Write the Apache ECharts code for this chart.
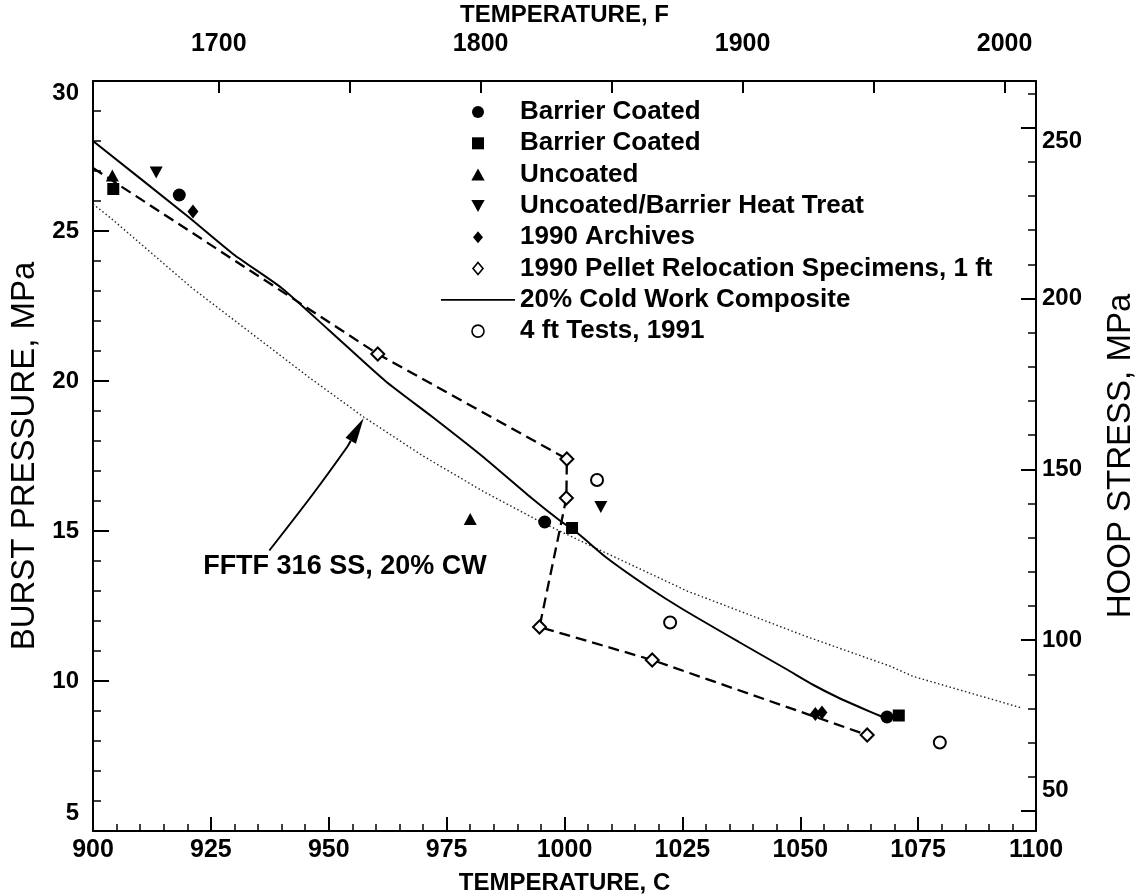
<!DOCTYPE html>
<html>
<head>
<meta charset="utf-8">
<title>Burst pressure vs temperature</title>
<script src="https://cdn.jsdelivr.net/npm/echarts@6/dist/echarts.min.js"></script>
<style>
  html, body { margin: 0; padding: 0; background: #fff; }
  #chart { width: 1137px; height: 896px; }
</style>
</head>
<body>
<div id="chart"></div>
<script>
// ---- data (temperature C, burst pressure MPa) ----
var barrierCircle = [[918.3, 26.2], [995.8, 15.3], [1068.4, 8.8]];
var barrierSquare = [[904.3, 26.4], [1001.6, 15.1], [1070.9, 8.85]];
var uncoated = [[904.1, 26.85], [980.0, 15.4]];
var uncoatedHeat = [[913.4, 26.95], [1007.7, 15.8]];
var archives = [[921.2, 25.65], [1053.2, 8.9], [1054.6, 8.95]];
var pelletPath = [[900, 27.1], [960.4, 20.9], [1000.5, 17.4], [1000.4, 16.1], [994.7, 11.8], [1018.6, 10.7], [1064.2, 8.2]];
var coldWork = [[900, 28.0], [920, 25.5], [930, 24.2], [940, 23.1], [950, 21.7], [962, 20.0], [972, 18.8],
  [982.5, 17.5], [993, 16.1], [999, 15.35], [1003, 14.9], [1009, 14.1], [1018, 13.1], [1025, 12.4],
  [1037, 11.3], [1047, 10.4], [1053, 9.85], [1058, 9.45], [1063, 9.1], [1067.5, 8.8]];
var fftf = [[900, 25.9], [904, 25.4], [921, 23.1], [946, 20.1], [957.4, 18.8], [970, 17.5], [983, 16.3],
  [995, 15.3], [1007, 14.4], [1026, 13.0], [1051, 11.5], [1069, 10.5], [1074, 10.15], [1097, 9.1]];
var fourFt = [[1006.9, 16.7], [1022.4, 11.95], [1079.6, 7.95]];

// ---- tick values ----
var fTicks = [1700, 1750, 1800, 1850, 1900, 1950, 2000];
var fLabels = [1700, 1800, 1900, 2000];
var hoopMajor = [50, 100, 150, 200, 250];
var hoopMinor = [60, 70, 80, 90, 110, 120, 130, 140, 160, 170, 180, 190, 210, 220, 230, 240, 260];

// annotation (data coords): arrow from label to the FFTF curve
var arrowPath = [[937.4, 14.35], [946.5, 16.2], [953.9, 17.8], [957.4, 18.76]];
var arrowLabelAt = [983.5, 13.8];
var arrowLabel = 'FFTF 316 SS, 20% CW';

var FONT = 'Liberation Sans';
var tickFont = { fontFamily: FONT, fontSize: 24, fontWeight: 'bold', color: '#000' };
var plain = function (v) { return String(v); };

// legend glyphs as paths so they keep their aspect inside the wide legend slot
var ICON_SQUARE = 'path://M0,0L10,0L10,10L0,10Z';
var ICON_TRI_UP = 'path://M5,0L10,9L0,9Z';
var ICON_TRI_DOWN = 'path://M0,0L10,0L5,9Z';
var ICON_DIAMOND = 'path://M5,0L10,6L5,12L0,6Z';
var ICON_LINE = 'path://M0,0L100,0L100,2.4L0,2.4Z';

function rich(extra) {
  return Object.assign({}, tickFont, extra || {});
}

var chart = echarts.init(document.getElementById('chart'));

var option = {
  animation: false,
  backgroundColor: '#fff',
  grid: { left: 93, right: 101, top: 81, bottom: 65, containLabel: false, outerBoundsMode: 'none' },
  legend: {
    orient: 'vertical',
    left: 441,
    top: 99,
    padding: 0,
    itemWidth: 74,
    itemHeight: 12,
    itemGap: 5.3,
    symbolKeepAspect: true,
    selectedMode: false,
    formatter: function (n) { return n.trim(); },
    textStyle: { fontFamily: FONT, fontSize: 26, fontWeight: 'bold', color: '#000', lineHeight: 25 },
    data: [
      { name: 'Barrier Coated', icon: 'circle', itemStyle: { color: '#000' } },
      { name: 'Barrier Coated ', icon: ICON_SQUARE, itemStyle: { color: '#000' } },
      { name: 'Uncoated', icon: ICON_TRI_UP, itemStyle: { color: '#000' } },
      { name: 'Uncoated/Barrier Heat Treat', icon: ICON_TRI_DOWN, itemStyle: { color: '#000' } },
      { name: '1990 Archives', icon: ICON_DIAMOND, itemStyle: { color: '#000' } },
      { name: '1990 Pellet Relocation Specimens, 1 ft', icon: ICON_DIAMOND,
        itemStyle: { color: '#fff', borderColor: '#000', borderWidth: 1.6 } },
      { name: '20% Cold Work Composite', icon: ICON_LINE, itemStyle: { color: '#000', borderWidth: 0 } },
      { name: '4 ft Tests, 1991', icon: 'circle',
        itemStyle: { color: '#fff', borderColor: '#000', borderWidth: 1.6 } }
    ]
  },
  xAxis: [
    {
      type: 'value', position: 'bottom', min: 900, max: 1100, interval: 25,
      name: 'TEMPERATURE, C', nameLocation: 'middle', nameGap: 40,
      nameTextStyle: { fontFamily: FONT, fontSize: 24, fontWeight: 'bold', color: '#000' },
      axisLine: { lineStyle: { color: '#000', width: 2 } },
      axisTick: { inside: true, length: 14, lineStyle: { color: '#000', width: 2 } },
      minorTick: { show: true, splitNumber: 5, length: 7, lineStyle: { color: '#000', width: 1.5 } },
      axisLabel: Object.assign({ margin: 7, formatter: plain }, tickFont, { fontSize: 25 }),
      splitLine: { show: false }
    },
    {
      type: 'value', position: 'top', min: 1652, max: 2012,
      name: 'TEMPERATURE, F', nameLocation: 'middle', nameGap: 54,
      nameTextStyle: { fontFamily: FONT, fontSize: 24, fontWeight: 'bold', color: '#000' },
      axisLine: { lineStyle: { color: '#000', width: 2 } },
      axisTick: { inside: true, length: 12, customValues: fTicks, lineStyle: { color: '#000', width: 2 } },
      axisLabel: Object.assign({ margin: 24, customValues: fLabels, formatter: plain }, tickFont, { fontSize: 25 }),
      splitLine: { show: false }
    }
  ],
  yAxis: [
    {
      type: 'value', position: 'left', min: 5, max: 30, interval: 5,
      name: 'BURST PRESSURE, MPa', nameLocation: 'middle', nameGap: 52,
      nameTextStyle: { fontFamily: FONT, fontSize: 33, color: '#000' },
      axisLine: { lineStyle: { color: '#000', width: 2 } },
      axisTick: { inside: true, length: 16, lineStyle: { color: '#000', width: 2 } },
      minorTick: { show: true, splitNumber: 5, length: 8, lineStyle: { color: '#000', width: 1.5 } },
      axisLabel: {
        margin: 14,
        formatter: function (v) {
          if (v === 5) return '{lo|5}';
          if (v === 30) return '{hi|30}';
          return '{n|' + v + '}';
        },
        rich: { n: rich(), lo: rich({ padding: [0, 0, 36, 0] }), hi: rich({ padding: [24, 0, 0, 0] }) }
      },
      splitLine: { show: false }
    },
    {
      type: 'value', position: 'right', min: 44.15, max: 263.67,
      name: 'HOOP STRESS, MPa', nameLocation: 'middle', nameGap: 68,
      nameTextStyle: { fontFamily: FONT, fontSize: 33, color: '#000' },
      axisLine: { lineStyle: { color: '#000', width: 2 } },
      axisTick: { inside: true, length: 15, customValues: hoopMajor, lineStyle: { color: '#000', width: 2 } },
      axisLabel: {
        margin: 6,
        customValues: hoopMajor,
        formatter: function (v) {
          if (v === 50) return '{lo|50}';
          if (v === 250) return '{hi|250}';
          return '{n|' + v + '}';
        },
        rich: { n: rich(), lo: rich({ padding: [0, 0, 42, 0] }), hi: rich({ padding: [28, 0, 0, 0] }) }
      },
      splitLine: { show: false }
    },
    {
      type: 'value', position: 'right', min: 44.15, max: 263.67,
      axisLine: { show: false },
      axisTick: { inside: true, length: 8, customValues: hoopMinor, lineStyle: { color: '#000', width: 1.5 } },
      axisLabel: { show: false },
      splitLine: { show: false }
    }
  ],
  series: [
    {
      name: 'FFTF', type: 'line', data: fftf, showSymbol: false, symbol: 'none', silent: true,
      lineStyle: { color: '#222', width: 1.4, type: [1.5, 2.5] }, z: 1
    },
    {
      name: '20% Cold Work Composite', type: 'line', data: coldWork, symbol: 'none', smooth: 0.2, silent: true,
      itemStyle: { color: '#000' }, lineStyle: { color: '#000', width: 2 }, z: 2
    },
    {
      name: '1990 Pellet Relocation Specimens, 1 ft', type: 'line', silent: true,
      data: pelletPath.map(function (p, i) { return i === 0 ? { value: p, symbol: 'none' } : p; }),
      symbol: 'emptyDiamond', symbolSize: 13, showSymbol: true,
      itemStyle: { color: '#000', borderWidth: 1.6 },
      lineStyle: { color: '#000', width: 2.3, type: [11, 6] }, z: 3
    },
    {
      name: 'Barrier Coated', type: 'scatter', data: barrierCircle, symbol: 'circle', symbolSize: 13,
      itemStyle: { color: '#000', opacity: 1 }, z: 5
    },
    {
      name: 'Barrier Coated ', type: 'scatter', data: barrierSquare, symbol: 'rect', symbolSize: 12,
      itemStyle: { color: '#000', opacity: 1 }, z: 5
    },
    {
      name: 'Uncoated', type: 'scatter', data: uncoated, symbol: 'triangle', symbolSize: [13, 12],
      itemStyle: { color: '#000', opacity: 1 }, z: 5
    },
    {
      name: 'Uncoated/Barrier Heat Treat', type: 'scatter', data: uncoatedHeat,
      symbol: 'path://M0,0L20,0L10,18Z', symbolSize: [13, 12],
      itemStyle: { color: '#000', opacity: 1 }, z: 5
    },
    {
      name: '1990 Archives', type: 'scatter', data: archives, symbol: 'diamond', symbolSize: [11, 14],
      itemStyle: { color: '#000', opacity: 1 }, z: 5
    },
    {
      name: '4 ft Tests, 1991', type: 'scatter', data: fourFt, symbol: 'emptyCircle', symbolSize: 12,
      itemStyle: { color: '#000', borderWidth: 1.6, opacity: 1 }, z: 5
    }
  ]
};

chart.setOption(option);

// arrow + label for the FFTF curve, placed through the chart's own scales
var toPx = function (p) { return chart.convertToPixel({ xAxisIndex: 0, yAxisIndex: 0 }, p); };
var pts = arrowPath.map(toPx);
var tip = pts[pts.length - 1];
var prev = pts[pts.length - 2];
var dx = tip[0] - prev[0], dy = tip[1] - prev[1];
var len = Math.sqrt(dx * dx + dy * dy);
var ux = dx / len, uy = dy / len;
var headLen = 26, headHalf = 6;
var bx = tip[0] - ux * headLen, by = tip[1] - uy * headLen;
var labelPx = toPx(arrowLabelAt);

chart.setOption({
  graphic: [
    {
      type: 'polyline', silent: true,
      shape: { points: pts.slice(0, pts.length - 1).concat([[bx, by]]), smooth: 0.3 },
      style: { stroke: '#000', lineWidth: 2, fill: null }
    },
    {
      type: 'polygon', silent: true,
      shape: { points: [tip, [bx - uy * headHalf, by + ux * headHalf], [bx + uy * headHalf, by - ux * headHalf]] },
      style: { fill: '#000' }
    },
    {
      type: 'text', silent: true, x: labelPx[0], y: labelPx[1],
      style: {
        text: arrowLabel, fontFamily: FONT, fontSize: 27, fontWeight: 'bold', fill: '#000',
        align: 'right', verticalAlign: 'middle'
      }
    }
  ]
});
</script>
</body>
</html>
